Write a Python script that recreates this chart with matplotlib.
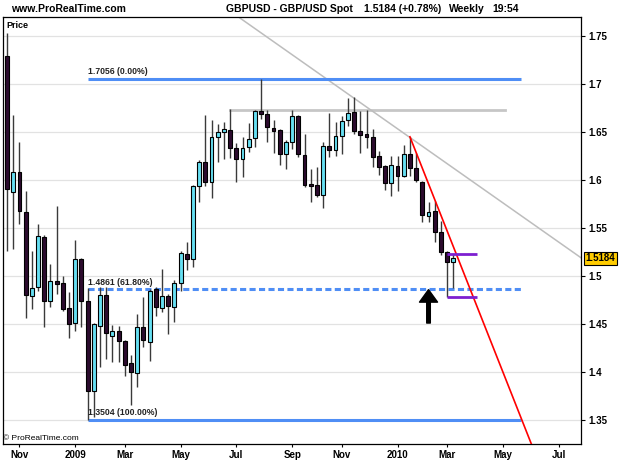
import numpy as np
import pandas as pd
import matplotlib
matplotlib.use('Agg')
import matplotlib.pyplot as plt
import matplotlib.transforms as mtransforms

plt.rcParams['font.family'] = ['Liberation Sans', 'DejaVu Sans']

# weekly GBP/USD candles, first week starting 2008-10-20
week_start = '2008-10-20'
opens = [1.729, 1.587, 1.608, 1.567, 1.479, 1.489, 1.541, 1.474, 1.495, 1.493,
         1.467, 1.451, 1.518, 1.474, 1.380, 1.448, 1.480, 1.437, 1.443, 1.432,
         1.409, 1.399, 1.447, 1.431, 1.486, 1.467, 1.479, 1.468, 1.493, 1.523,
         1.518, 1.594, 1.619, 1.598, 1.645, 1.650, 1.652, 1.633, 1.622, 1.634,
         1.644, 1.672, 1.669, 1.654, 1.652, 1.627, 1.640, 1.667, 1.626, 1.596,
         1.595, 1.584, 1.635, 1.631, 1.646, 1.663, 1.671, 1.651, 1.648, 1.645,
         1.625, 1.615, 1.597, 1.615, 1.604, 1.627, 1.612, 1.598, 1.563, 1.568,
         1.546, 1.525, 1.515]
highs = [1.753, 1.668, 1.640, 1.589, 1.526, 1.554, 1.543, 1.512, 1.573, 1.500,
         1.483, 1.538, 1.519, 1.487, 1.451, 1.489, 1.489, 1.449, 1.448, 1.433,
         1.418, 1.460, 1.478, 1.486, 1.489, 1.507, 1.481, 1.496, 1.526, 1.535,
         1.595, 1.621, 1.668, 1.662, 1.658, 1.660, 1.674, 1.639, 1.645, 1.659,
         1.673, 1.7056, 1.673, 1.662, 1.653, 1.642, 1.673, 1.668, 1.648, 1.611,
         1.614, 1.640, 1.670, 1.660, 1.667, 1.685, 1.686, 1.672, 1.673, 1.653,
         1.630, 1.616, 1.625, 1.625, 1.636, 1.645, 1.628, 1.599, 1.577, 1.578,
         1.557, 1.526, 1.523]
lows = [1.526, 1.528, 1.554, 1.456, 1.466, 1.484, 1.447, 1.468, 1.481, 1.464,
        1.435, 1.443, 1.447, 1.3504, 1.353, 1.405, 1.414, 1.410, 1.410, 1.396,
        1.366, 1.384, 1.426, 1.411, 1.458, 1.462, 1.440, 1.452, 1.484, 1.506,
        1.509, 1.577, 1.594, 1.581, 1.619, 1.622, 1.623, 1.598, 1.603, 1.629,
        1.634, 1.664, 1.640, 1.628, 1.616, 1.611, 1.632, 1.624, 1.593, 1.577,
        1.582, 1.571, 1.624, 1.625, 1.627, 1.656, 1.648, 1.628, 1.633, 1.614,
        1.605, 1.590, 1.583, 1.589, 1.603, 1.604, 1.598, 1.556, 1.556, 1.535,
        1.522, 1.478, 1.488]
closes = [1.591, 1.608, 1.568, 1.480, 1.487, 1.542, 1.474, 1.495, 1.492, 1.466,
          1.450, 1.518, 1.474, 1.380, 1.450, 1.480, 1.441, 1.443, 1.432, 1.407,
          1.400, 1.447, 1.433, 1.484, 1.468, 1.479, 1.469, 1.493, 1.524, 1.518,
          1.594, 1.619, 1.598, 1.645, 1.650, 1.653, 1.633, 1.622, 1.633, 1.643,
          1.672, 1.669, 1.655, 1.651, 1.627, 1.640, 1.667, 1.627, 1.595, 1.594,
          1.584, 1.635, 1.631, 1.646, 1.661, 1.670, 1.651, 1.647, 1.645, 1.624,
          1.614, 1.597, 1.616, 1.604, 1.627, 1.612, 1.600, 1.564, 1.567, 1.546,
          1.525, 1.515, 1.5184]

# drawings on the chart (week index, price)
fib_levels = [1.7056, 1.4861, 1.3504]
fib_labels = ['1.7056 (0.00%)', '1.4861 (61.80%)', '1.3504 (100.00%)']
fib_span = [13, 83]
resistance_level = 1.673
resistance_span = [36, 80.3]
gray_trend_x = [37.3, 92.6]
gray_trend_y = [1.770, 1.519]
red_trend_x = [65, 86]
red_trend_y = [1.645, 1.302]
range_levels = [1.523, 1.478]
range_span = [71, 75.8]
arrow_week = 68
arrow_tip, arrow_tail = 1.4858, 1.451
last_price = 1.5184

bull_color = '#66dff2'
bear_color = '#2c0b2e'
fib_color = '#4f8ef5'

n = len(closes)
x = np.arange(n)
o = np.array(opens)
c = np.array(closes)

fig = plt.figure(figsize=(6.25, 4.69), dpi=100)
ax = fig.add_axes([3 / 625, 1 - 444 / 469, 578 / 625, 427 / 469])

# grid
for lvl in np.arange(1.35, 1.751, 0.05):
    ax.axhline(lvl, color='#e2e2e2', lw=0.9, zorder=0)

# fibonacci retracement
for lvl, lab in zip(fib_levels, fib_labels):
    ls = '--' if lvl == fib_levels[1] else '-'
    line, = ax.plot(fib_span, [lvl, lvl], color=fib_color, lw=2.2, ls=ls,
                    solid_capstyle='butt', zorder=2)
    if ls == '--':
        line.set_dashes((2.0, 1.1))
    ax.text(fib_span[0], lvl + 0.0025, lab, fontsize=6.2, fontweight='bold',
            color='#222222', ha='left', va='bottom', zorder=5)

ax.plot(resistance_span, [resistance_level] * 2, color='#c6c6c6', lw=2, zorder=1)
ax.plot(gray_trend_x, gray_trend_y, color='#bdbdbd', lw=1.1, zorder=1)

# candles
ax.vlines(x, lows, highs, color='#3a3a3a', lw=1, zorder=3)
body_bottom = np.minimum(o, c)
body_height = np.maximum(np.abs(c - o), 0.0015)
colors = [bull_color if cc >= oo else bear_color for oo, cc in zip(o, c)]
ax.bar(x, body_height, bottom=body_bottom, width=0.62, color=colors,
       edgecolor='black', linewidth=0.8, zorder=4)

ax.plot(red_trend_x, red_trend_y, color='#ff0000', lw=1.2, zorder=6)
for lvl in range_levels:
    ax.plot(range_span, [lvl, lvl], color='#7d1fd0', lw=2, zorder=6,
            solid_capstyle='butt')

ax.annotate('', xy=(arrow_week, arrow_tip), xytext=(arrow_week, arrow_tail),
            arrowprops=dict(facecolor='black', edgecolor='black', width=2.6,
                            headwidth=13, headlength=9, shrink=0), zorder=7)

# axes
ax.set_xlim(-0.65, 92.6)
ax.set_ylim(1.325, 1.7698)
ax.yaxis.tick_right()
ax.set_yticks(np.arange(1.35, 1.751, 0.05))
ax.set_yticklabels(['%g' % round(v, 2) for v in np.arange(1.35, 1.751, 0.05)])

axis_weeks = pd.date_range(week_start, periods=100, freq='7D')
month_starts = pd.date_range('2008-11-01', '2010-07-01', freq='2MS')
tick_idx = [int(np.searchsorted(axis_weeks, m)) for m in month_starts]
tick_labels = [str(m.year) if m.month == 1 else m.strftime('%b') for m in month_starts]
ax.set_xticks(tick_idx)
ax.set_xticklabels(tick_labels)

ax.tick_params(axis='y', direction='out', length=3, width=0.8, labelsize=7, pad=2)
ax.tick_params(axis='x', direction='out', length=2, width=0.8, labelsize=7, pad=2)
for lbl in ax.get_xticklabels() + ax.get_yticklabels():
    lbl.set_fontweight('bold')
for sp in ax.spines.values():
    sp.set_linewidth(0.9)

trans = mtransforms.blended_transform_factory(ax.transAxes, ax.transData)
ax.text(1.008, last_price, '1.5184', transform=trans, fontsize=7, fontweight='bold',
        ha='left', va='center', clip_on=False,
        bbox=dict(boxstyle='square,pad=0.15', fc='#ffcc00', ec='black', lw=0.8))

ax.text(0.006, 0.99, 'Price', transform=ax.transAxes, fontsize=6.5,
        fontweight='bold', ha='left', va='top')
ax.text(0.0, 0.004, '\u00a9 ProRealTime.com', transform=ax.transAxes, fontsize=6,
        ha='left', va='bottom')

# header
hy = 1 - 8.5 / 469
fig.text(11 / 625, hy, 'www.ProRealTime.com', fontsize=7.5, fontweight='bold', va='center')
fig.text(226 / 625, hy, 'GBPUSD - GBP/USD Spot', fontsize=7.5, fontweight='bold', va='center')
fig.text(364 / 625, hy, '1.5184 (+0.78%)', fontsize=7.5, fontweight='bold', va='center')
fig.text(449 / 625, hy, 'Weekly', fontsize=7.5, fontweight='bold', va='center')
fig.text(492 / 625, hy, '19:54', fontsize=7.5, fontweight='bold', va='center')

fig.savefig('out.png', dpi=100)
